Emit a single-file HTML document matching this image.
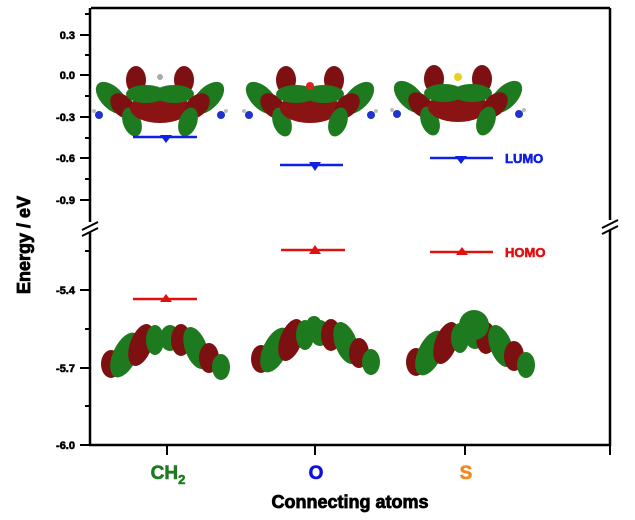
<!DOCTYPE html>
<html><head><meta charset="utf-8"><style>
body{margin:0;background:#fff}
svg{display:block;font-family:"Liberation Sans",Arial,sans-serif;font-weight:bold}
</style></head><body>
<svg width="635" height="520" viewBox="0 0 635 520">
<defs>
<g id="lumo">
<ellipse cx="-48" cy="-2" rx="11" ry="20" transform="rotate(-45 -48 -2)" fill="#1e7a1e"/>
<ellipse cx="-37" cy="6" rx="10" ry="15" transform="rotate(-45 -37 6)" fill="#7d1010"/>
<ellipse cx="-28" cy="22" rx="9" ry="15" transform="rotate(-20 -28 22)" fill="#1e7a1e"/>
<ellipse cx="-24" cy="-20" rx="10" ry="14" fill="#7d1010"/>
<ellipse cx="24" cy="-20" rx="10" ry="14" fill="#7d1010"/>
<ellipse cx="0" cy="8" rx="30" ry="15" fill="#8a1414"/>
<ellipse cx="-14" cy="-6" rx="20" ry="9" fill="#1e7a1e"/>
<ellipse cx="14" cy="-6" rx="20" ry="9" fill="#1e7a1e"/>
<ellipse cx="48" cy="-2" rx="11" ry="20" transform="rotate(45 48 -2)" fill="#1e7a1e"/>
<ellipse cx="37" cy="6" rx="10" ry="15" transform="rotate(45 37 6)" fill="#7d1010"/>
<ellipse cx="28" cy="22" rx="9" ry="15" transform="rotate(20 28 22)" fill="#1e7a1e"/>
<circle cx="-61" cy="15" r="4" fill="#2233cc"/><circle cx="61" cy="15" r="4" fill="#2233cc"/>
<circle cx="-66" cy="11" r="2" fill="#bbb"/><circle cx="66" cy="11" r="2" fill="#bbb"/>
</g>
<g id="homo">
<ellipse cx="-54" cy="14" rx="10" ry="14" fill="#7d1010"/>
<ellipse cx="-40" cy="5" rx="12" ry="24" transform="rotate(25 -40 5)" fill="#1e7a1e"/>
<ellipse cx="-24" cy="-5" rx="11" ry="22" transform="rotate(20 -24 -5)" fill="#7d1010"/>
<ellipse cx="-10" cy="-10" rx="9" ry="15" fill="#1e7a1e"/>
<ellipse cx="5" cy="-12" rx="10" ry="13" fill="#1e7a1e"/>
<ellipse cx="16" cy="-10" rx="10" ry="16" fill="#7d1010"/>
<ellipse cx="31" cy="-2" rx="11" ry="22" transform="rotate(-20 31 -2)" fill="#1e7a1e"/>
<ellipse cx="44" cy="8" rx="10" ry="15" fill="#7d1010"/>
<ellipse cx="56" cy="17" rx="9" ry="13" fill="#1e7a1e"/>
</g>
</defs>
<g stroke="#000" stroke-width="2.5" fill="none">
<line x1="91" y1="8" x2="610" y2="8"/>
<line x1="90" y1="8" x2="90" y2="222"/>
<line x1="90" y1="232" x2="90" y2="446"/>
<line x1="610" y1="8" x2="610" y2="220"/>
<line x1="610" y1="230" x2="610" y2="446"/>
<line x1="89" y1="445" x2="611" y2="445"/>
<line x1="82" y1="230" x2="98" y2="222" stroke-width="2"/>
<line x1="82" y1="236" x2="98" y2="228" stroke-width="2"/>
<line x1="602" y1="228" x2="618" y2="220" stroke-width="2"/>
<line x1="602" y1="234" x2="618" y2="226" stroke-width="2"/>
</g>
<g stroke="#000" stroke-width="2">
<line x1="80" y1="35" x2="90" y2="35"/><line x1="80" y1="75" x2="90" y2="75"/>
<line x1="80" y1="117" x2="90" y2="117"/><line x1="80" y1="158" x2="90" y2="158"/>
<line x1="80" y1="200" x2="90" y2="200"/>
<line x1="85" y1="14" x2="90" y2="14"/><line x1="85" y1="55" x2="90" y2="55"/>
<line x1="85" y1="96" x2="90" y2="96"/><line x1="85" y1="138" x2="90" y2="138"/>
<line x1="85" y1="179" x2="90" y2="179"/>
<line x1="80" y1="290" x2="90" y2="290"/><line x1="80" y1="368" x2="90" y2="368"/>
<line x1="80" y1="445" x2="90" y2="445"/>
<line x1="85" y1="251" x2="90" y2="251"/><line x1="85" y1="329" x2="90" y2="329"/>
<line x1="85" y1="406" x2="90" y2="406"/>
<line x1="167" y1="445" x2="167" y2="455"/><line x1="315" y1="445" x2="315" y2="455"/>
<line x1="465" y1="445" x2="465" y2="455"/><line x1="610" y1="445" x2="610" y2="455"/>
</g>
<g font-size="11" text-anchor="end" fill="#000" stroke="#000" stroke-width="0.6">
<text x="75" y="39">0.3</text><text x="75" y="79">0.0</text>
<text x="75" y="121">-0.3</text><text x="75" y="162">-0.6</text>
<text x="75" y="204">-0.9</text><text x="75" y="294">-5.4</text>
<text x="75" y="372">-5.7</text><text x="75" y="449">-6.0</text>
</g>
<text x="30" y="245" font-size="18" text-anchor="middle" stroke="#000" stroke-width="0.8" transform="rotate(-90 30 245)">Energy / eV</text>
<text x="350" y="508" font-size="18" text-anchor="middle" stroke="#000" stroke-width="0.8">Connecting atoms</text>
<text x="168" y="479" font-size="19" text-anchor="middle" fill="#1e7a1e" stroke="#1e7a1e" stroke-width="0.6">CH<tspan font-size="13" dy="5">2</tspan></text>
<text x="316" y="479" font-size="19" text-anchor="middle" fill="#1010dd" stroke="#1010dd" stroke-width="0.6">O</text>
<text x="466" y="479" font-size="19" text-anchor="middle" fill="#f08a20" stroke="#f08a20" stroke-width="0.6">S</text>
<use href="#lumo" transform="translate(160,100)"/>
<use href="#lumo" transform="translate(310,100)"/>
<use href="#lumo" transform="translate(458,99)"/>
<circle cx="160" cy="77" r="3" fill="#aaa"/>
<circle cx="310" cy="86" r="4" fill="#dd2222"/>
<circle cx="458" cy="77" r="4" fill="#e8d020"/>
<use href="#homo" transform="translate(165,350)"/>
<use href="#homo" transform="translate(315,345)"/>
<use href="#homo" transform="translate(470,348)"/>
<circle cx="314" cy="323" r="7" fill="#1e7a1e"/>
<circle cx="474" cy="325" r="15" fill="#1e7a1e"/>
<g stroke-width="2.5">
<line x1="133" y1="137" x2="197" y2="137" stroke="#1020e0"/>
<line x1="280" y1="165" x2="343" y2="165" stroke="#1020e0"/>
<line x1="430" y1="158" x2="493" y2="158" stroke="#1020e0"/>
<line x1="133" y1="299" x2="197" y2="299" stroke="#e01010"/>
<line x1="281" y1="250" x2="345" y2="250" stroke="#e01010"/>
<line x1="430" y1="252" x2="493" y2="252" stroke="#e01010"/>
</g>
<g fill="#1020e0">
<polygon points="160,135 172,135 166,143"/>
<polygon points="309,162 321,162 315,171"/>
<polygon points="455,156 467,156 461,164"/>
</g>
<g fill="#e01010">
<polygon points="160,302 172,302 166,294"/>
<polygon points="309,254 321,254 315,245"/>
<polygon points="456,255 468,255 462,247"/>
</g>
<text x="505" y="163" font-size="13" fill="#1020e0" stroke="#1020e0" stroke-width="0.6">LUMO</text>
<text x="505" y="257" font-size="13" fill="#e01010" stroke="#e01010" stroke-width="0.6">HOMO</text>
</svg>
</body></html>
